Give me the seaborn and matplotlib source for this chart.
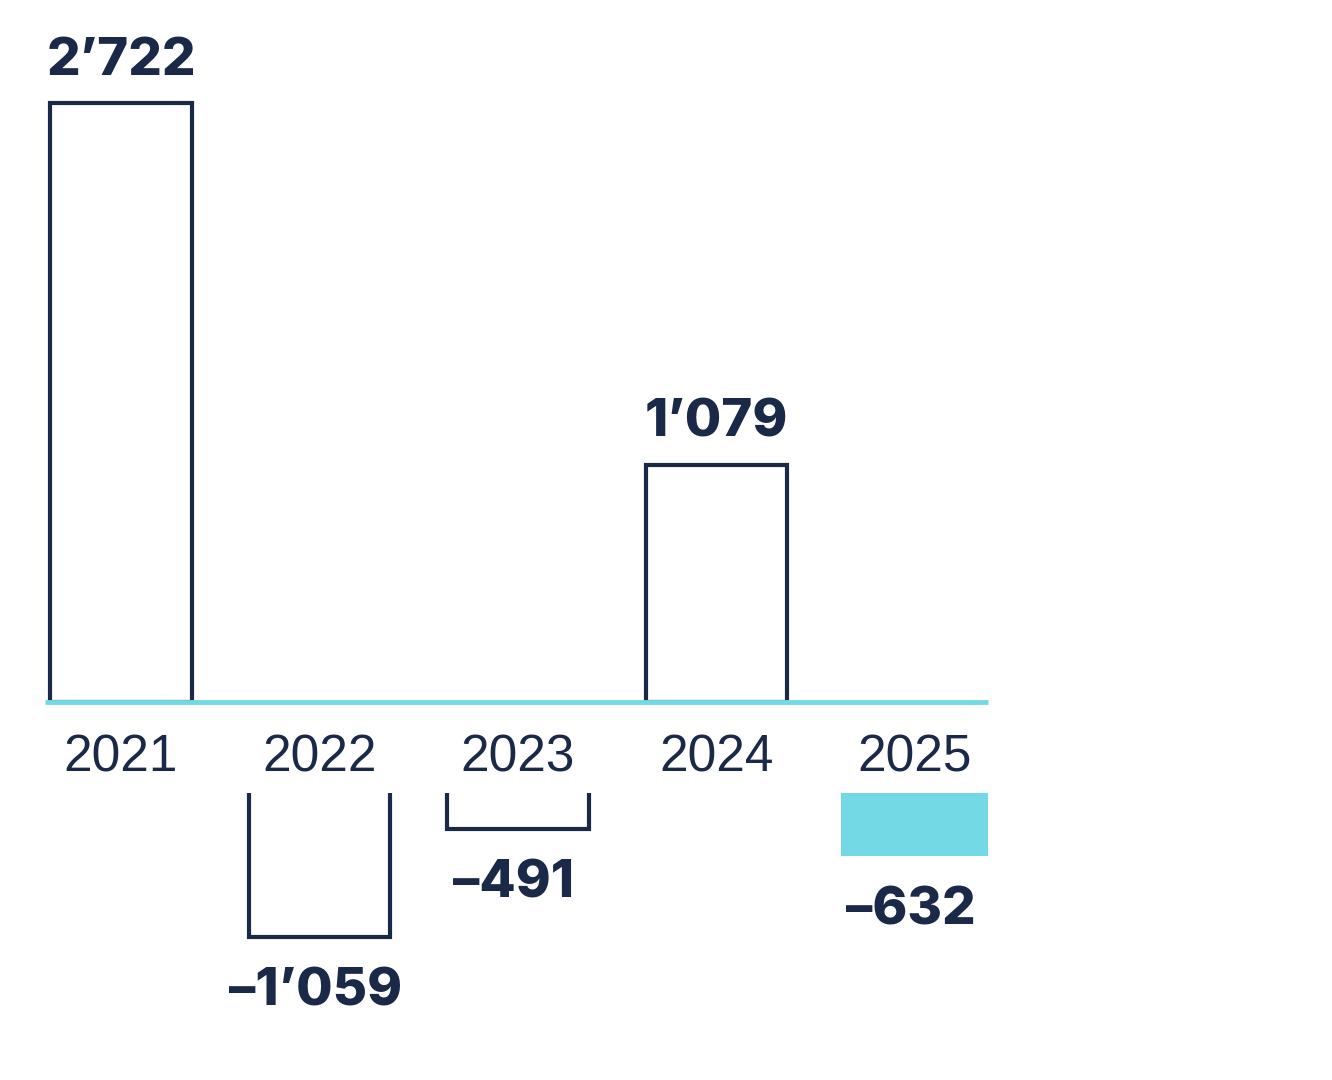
import matplotlib
matplotlib.use("Agg")
import matplotlib.pyplot as plt
import seaborn as sns
import pandas as pd

# ---- data ----
years = ["2021", "2022", "2023", "2024", "2025"]
values = [2722, -1059, -491, 1079, -632]
value_labels = ["2\u2019722", "\u20131\u2019059", "\u2013491", "1\u2019079", "\u2013632"]
highlight = [False, False, False, False, True]

NAVY = "#1b2948"
CYAN = "#72d9e5"

df = pd.DataFrame({"year": years, "value": values, "label": value_labels, "hl": highlight})
pos = df[df.value > 0]
neg = df[df.value < 0]

sns.set_theme(style="white")
plt.rcParams["font.family"] = ["Liberation Sans", "DejaVu Sans"]

W, H = 1332, 1080
fig = plt.figure(figsize=(W / 100, H / 100), dpi=100)

x0, x1 = 45, 988
base_px = 702
neg_top_px = 793
pos_scale = (702 - 103) / 2722          # px per unit (positive)
neg_scale = 0.1901                      # px per unit (negative part)
neg_origin_px = 735.6

ax1 = fig.add_axes([x0 / W, (H - base_px) / H, (x1 - x0) / W, base_px / H])
ax2 = fig.add_axes([x0 / W, 0, (x1 - x0) / W, (H - neg_top_px) / H])

bw = 0.715
lw = 3.0

# positive bars
sns.barplot(data=pos, x="year", y="value", order=years, ax=ax1, width=bw,
            color="white", edgecolor=NAVY, linewidth=lw, saturation=1, zorder=2)
# negative outlined bars
sns.barplot(data=neg[~neg.hl], x="year", y="value", order=years, ax=ax2, width=bw,
            color="white", edgecolor=NAVY, linewidth=lw, saturation=1, zorder=2)
# highlighted negative bar
sns.barplot(data=neg[neg.hl], x="year", y="value", order=years, ax=ax2, width=bw + 0.035,
            color=CYAN, edgecolor="none", linewidth=0, saturation=1, zorder=2)

xl = (-0.383, 4.368)
ax1.set_xlim(*xl)
ax2.set_xlim(*xl)
ax1.set_ylim(0, base_px / pos_scale)
ax2.set_ylim(-(H - neg_origin_px) / neg_scale, -(neg_top_px - neg_origin_px) / neg_scale)

ax1.axhline(0, color=CYAN, lw=3.5, zorder=5, clip_on=False, solid_capstyle="butt")

for ax in (ax1, ax2):
    for s in ax.spines.values():
        s.set_visible(False)
    ax.set_xlabel("")
    ax.set_ylabel("")
    ax.set_yticks([])
    ax.patch.set_alpha(0)

ax2.set_xticks([])
ax1.set_xticks(range(len(years)))
ax1.set_xticklabels(years, fontsize=37, color=NAVY)
ax1.tick_params(axis="x", length=0, pad=23)

label_font = dict(fontsize=38, fontweight=800, color=NAVY, ha="center",
                  va="baseline", family=["Inter", "DejaVu Sans"])
for i, r in df.iterrows():
    if r.value > 0:
        ax1.annotate(r.label, (i, r.value), xytext=(0, 20), textcoords="offset points",
                     annotation_clip=False, **label_font)
    else:
        ax2.annotate(r.label, (i, r.value), xytext=(-3, -49.5), textcoords="offset points",
                     annotation_clip=False, **label_font)

fig.savefig("out.png", dpi=100, facecolor="white")
